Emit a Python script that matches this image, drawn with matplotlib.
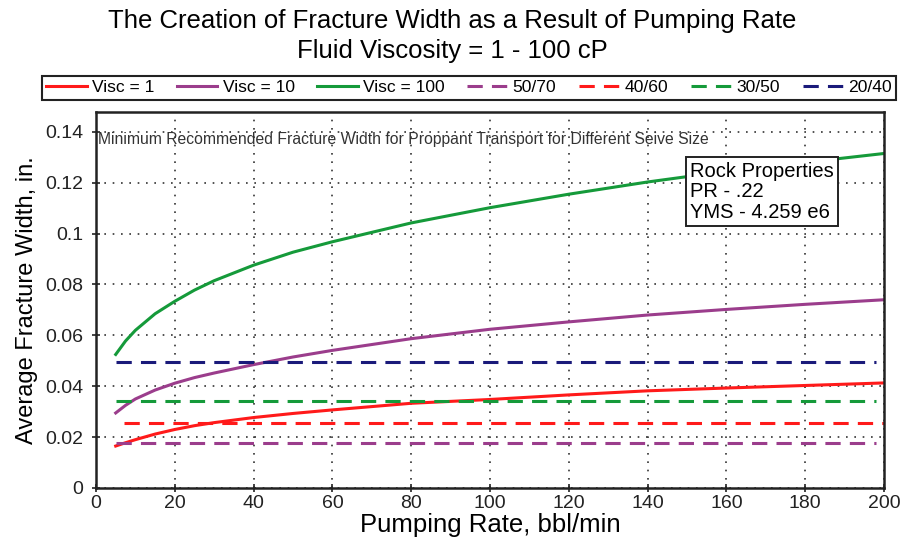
from matplotlib import pyplot as plt

plt.rcParams['font.family'] = ['Liberation Sans', 'DejaVu Sans']

# pumping rate, bbl/min
rate = [5, 7.5, 10, 15, 20, 25, 30, 40, 50, 60, 80, 100, 120, 140, 160, 180, 200]

# average fracture width, in.
visc_1 = [0.0165, 0.0178, 0.0190, 0.0212, 0.0230, 0.0245, 0.0257, 0.0277, 0.0293, 0.0307, 0.0333, 0.0348, 0.0366, 0.0382, 0.0393, 0.0403, 0.0413]
visc_10 = [0.0295, 0.0325, 0.0350, 0.0385, 0.0412, 0.0434, 0.0452, 0.0485, 0.0515, 0.0541, 0.0587, 0.0624, 0.0653, 0.0680, 0.0702, 0.0722, 0.0740]
visc_100 = [0.0525, 0.0578, 0.0620, 0.0685, 0.0734, 0.0778, 0.0815, 0.0876, 0.0927, 0.0968, 0.1042, 0.1102, 0.1155, 0.1203, 0.1245, 0.1280, 0.1315]

# minimum recommended width per sieve size
sieve = ["50/70", "40/60", "30/50", "20/40"]
sieve_width = [0.0177, 0.0255, 0.0343, 0.0495]
sieve_start = [5, 7, 5, 5]
sieve_end = [198, 200, 198, 198]
sieve_color = ["#9b3d8c", "#ff1a1a", "#159a3a", "#1a1a7a"]

fig = plt.figure(figsize=(9.04, 5.48), dpi=100)
ax = fig.add_axes([0.1062, 0.1095, 0.8717, 0.687])

ax.plot(rate, visc_1, color="#ff1a1a", lw=2.2, label="Visc = 1")
ax.plot(rate, visc_10, color="#9b3d8c", lw=2.2, label="Visc = 10")
ax.plot(rate, visc_100, color="#159a3a", lw=2.2, label="Visc = 100")
for name, w, x0, x1, c in zip(sieve, sieve_width, sieve_start, sieve_end, sieve_color):
    ax.plot([x0, x1], [w, w], color=c, lw=2.2, ls=(0, (5, 3)), label=name)

ax.set_xlim(0, 200)
ax.set_ylim(0, 0.148)
ax.set_xticks(range(0, 201, 20))
ax.set_yticks([0, 0.02, 0.04, 0.06, 0.08, 0.1, 0.12, 0.14])
ax.set_yticklabels(["0", "0.02", "0.04", "0.06", "0.08", "0.1", "0.12", "0.14"])
ax.tick_params(direction="inout", length=6, width=1.2, labelsize=14, colors="#222222")
ax.tick_params(axis="x", pad=2)
ax.tick_params(axis="y", pad=6)
ax.grid(True, color="#333333", ls=(0, (1, 4)), lw=1.2)
for s in ax.spines.values():
    s.set_linewidth(1.8)
    s.set_color("#222222")

ax.set_xlabel("Pumping Rate, bbl/min", fontsize=18.5, labelpad=1)
ax.set_ylabel("Average Fracture Width, in.", fontsize=17, labelpad=5)

ax.text(0.6, 0.137, "Minimum Recommended Fracture Width for Proppant Transport for Different Seive Size",
        fontsize=11.3, color="#333333", va="center", ha="left")
ax.text(150.8, 0.1165, "Rock Properties\nPR - .22\nYMS - 4.259 e6", fontsize=14.5, va="center", ha="left",
        linespacing=1.1,
        bbox=dict(boxstyle="square,pad=0.22", fc="white", ec="#222222", lw=1.4))

fig.suptitle("The Creation of Fracture Width as a Result of Pumping Rate\nFluid Viscosity = 1 - 100 cP",
             fontsize=18.5, y=0.983, linespacing=1.3)

leg = fig.legend(loc="center", bbox_to_anchor=(0.519, 0.84), ncol=7, fontsize=12.6,
                 handlelength=2.3, handletextpad=0.3, columnspacing=1.3, borderpad=0.25,
                 fancybox=False, edgecolor="#222222", framealpha=1)
leg.get_frame().set_linewidth(1.5)

plt.savefig("out.png")
